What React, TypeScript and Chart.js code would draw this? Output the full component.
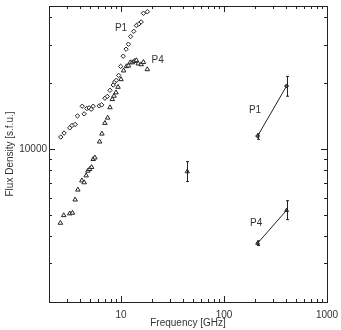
import React, { useEffect, useRef } from 'react';
import { Chart, registerables } from 'chart.js';

Chart.register(...registerables);

// P1 (diamonds), low-frequency spectrum
const p1Freq = [2.60, 2.80, 3.18, 3.35, 3.59, 3.78, 4.20, 4.39, 4.66, 4.91, 5.14, 5.37, 6.15, 6.49, 6.98, 7.35, 7.82, 8.41, 8.69, 9.00, 9.50, 9.93, 10.5, 11.2, 11.8, 12.4, 13.3, 14.1, 14.9, 15.7, 16.5, 18.0];
const p1Flux = [11340, 11820, 12490, 12810, 12950, 14160, 15680, 14470, 15310, 15410, 15200, 15680, 15740, 15900, 17060, 17380, 18540, 19600, 20230, 20600, 21690, 23850, 26550, 28570, 30110, 32650, 34490, 36620, 37250, 38040, 41670, 42380];

// P4 (triangles), low-frequency spectrum
const p4Freq = [2.58, 2.78, 3.18, 3.38, 3.59, 3.81, 4.17, 4.39, 4.59, 4.77, 4.95, 5.18, 5.37, 5.58, 6.20, 6.53, 6.98, 7.42, 7.82, 8.23, 8.55, 8.94, 9.35, 10.0, 10.6, 11.3, 11.8, 12.3, 12.9, 13.5, 14.1, 14.7, 15.7, 16.5, 18.0];
const p4Flux = [4593, 4977, 5070, 5103, 5866, 6512, 7173, 7030, 7560, 7944, 8084, 8258, 8978, 9130, 10794, 11735, 13130, 13880, 15480, 16870, 17470, 18110, 19190, 20800, 22800, 23850, 24010, 24850, 24850, 25200, 25400, 24540, 24330, 24930, 23100];

// P4 at 44 GHz with error bar
const p4MidFreq = [44];
const p4MidFlux = [7886];
const p4MidLow = [7100];
const p4MidHigh = [8756];

// Sub-mm points (212 / 405 GHz) with error bars
const subFreq = [212, 405];
const p1SubFlux = [11460, 19400];
const p1SubLow = [11070, 17420];
const p1SubHigh = [11735, 21460];
const p4SubFlux = [3713, 5245];
const p4SubLow = [3623, 4755];
const p4SubHigh = [3806, 5805];

// Axis ticks
const xMajorTicks = [10, 100, 1000];
const xMinorTicks = [2, 3, 4, 5, 6, 7, 8, 9, 20, 30, 40, 50, 60, 70, 80, 90, 200, 300, 400, 500, 600, 700, 800, 900];
const yMajorTicks = [10000];
const yMinorTicks = [2000, 3000, 4000, 5000, 6000, 7000, 8000, 9000, 20000, 30000, 40000];

// Text labels (data coordinates)
const labelText = ['P1', 'P4', 'P1', 'P4'];
const labelX = [10, 22.7, 200, 205];
const labelY = [35500, 25400, 15040, 4560];

const FONT = "'Liberation Sans', Arial, sans-serif";
const INK = '#222';

const pts = (xs: number[], ys: number[]) => xs.map((x, i) => ({ x, y: ys[i] }));

const errorSets = [
  { ds: 2, low: p4MidLow, high: p4MidHigh },
  { ds: 3, low: p1SubLow, high: p1SubHigh },
  { ds: 4, low: p4SubLow, high: p4SubHigh },
];

const framePlugin = {
  id: 'frameTicks',
  afterDatasetsDraw(chart: any) {
    const { ctx, chartArea: a, scales } = chart;
    const xs = scales.x;
    const ys = scales.y;
    ctx.save();
    ctx.strokeStyle = INK;
    ctx.lineWidth = 1;
    // error bars
    errorSets.forEach((e) => {
      const data = chart.data.datasets[e.ds].data as any[];
      data.forEach((d, i) => {
        const px = Math.round(xs.getPixelForValue(d.x)) + 0.5;
        const y1 = ys.getPixelForValue(e.low[i]);
        const y2 = ys.getPixelForValue(e.high[i]);
        ctx.beginPath();
        ctx.moveTo(px, y1);
        ctx.lineTo(px, y2);
        ctx.moveTo(px - 1.5, y1);
        ctx.lineTo(px + 1.5, y1);
        ctx.moveTo(px - 1.5, y2);
        ctx.lineTo(px + 1.5, y2);
        ctx.stroke();
      });
    });
    // frame
    ctx.strokeRect(Math.round(a.left) + 0.5, Math.round(a.top) + 0.5, Math.round(a.right - a.left), Math.round(a.bottom - a.top));
    ctx.beginPath();
    const xt = (v: number, len: number) => {
      const px = Math.round(xs.getPixelForValue(v)) + 0.5;
      ctx.moveTo(px, a.bottom);
      ctx.lineTo(px, a.bottom - len);
      ctx.moveTo(px, a.top);
      ctx.lineTo(px, a.top + len);
    };
    const yt = (v: number, len: number) => {
      const py = Math.round(ys.getPixelForValue(v)) + 0.5;
      ctx.moveTo(a.left, py);
      ctx.lineTo(a.left + len, py);
      ctx.moveTo(a.right, py);
      ctx.lineTo(a.right - len, py);
    };
    xMinorTicks.forEach((v) => xt(v, 3));
    xMajorTicks.forEach((v) => xt(v, 6));
    yMinorTicks.forEach((v) => yt(v, 3));
    yMajorTicks.forEach((v) => yt(v, 6));
    ctx.stroke();
    // text labels
    ctx.fillStyle = '#333';
    ctx.font = `10px ${FONT}`;
    ctx.textAlign = 'center';
    ctx.textBaseline = 'middle';
    labelText.forEach((t, i) => {
      ctx.fillText(t, xs.getPixelForValue(labelX[i]), ys.getPixelForValue(labelY[i]));
    });
    ctx.restore();
  },
};

export default function App() {
  const ref = useRef<HTMLCanvasElement | null>(null);
  useEffect(() => {
    document.body.style.margin = '0';
    if (!ref.current) return;
    const chart = new Chart(ref.current, {
      type: 'scatter',
      data: {
        datasets: [
          {
            label: 'P1',
            data: pts(p1Freq, p1Flux),
            pointStyle: 'rectRot',
            pointRadius: 2.2,
            borderColor: INK,
            backgroundColor: '#fff',
            borderWidth: 1,
            showLine: false,
          },
          {
            label: 'P4',
            data: pts(p4Freq, p4Flux),
            pointStyle: 'triangle',
            pointRadius: 2.6,
            borderColor: INK,
            backgroundColor: '#fff',
            borderWidth: 1,
            showLine: false,
          },
          {
            label: 'P4 44',
            data: pts(p4MidFreq, p4MidFlux),
            pointStyle: 'triangle',
            pointRadius: 2.4,
            borderColor: INK,
            backgroundColor: '#fff',
            borderWidth: 1,
            showLine: false,
          },
          {
            label: 'P1 sub',
            data: pts(subFreq, p1SubFlux),
            pointStyle: 'rectRot',
            pointRadius: 2,
            borderColor: INK,
            backgroundColor: '#555',
            borderWidth: 1,
            showLine: true,
          },
          {
            label: 'P4 sub',
            data: pts(subFreq, p4SubFlux),
            pointStyle: 'triangle',
            pointRadius: 2.2,
            borderColor: INK,
            backgroundColor: '#555',
            borderWidth: 1,
            showLine: true,
          },
        ],
      },
      options: {
        animation: false,
        responsive: false,
        devicePixelRatio: 1,
        layout: { padding: { top: 6, right: 14, left: 0, bottom: 0 } },
        plugins: { legend: { display: false }, tooltip: { enabled: false } },
        scales: {
          x: {
            type: 'logarithmic',
            min: 2,
            max: 1000,
            grid: { display: false, drawTicks: false },
            border: { display: false },
            afterBuildTicks: (s: any) => {
              s.ticks = xMajorTicks.map((v) => ({ value: v }));
            },
            afterFit: (s: any) => {
              s.height = 28;
              s.paddingLeft = 0;
              s.paddingRight = 0;
              s.paddingTop = 0;
              s.paddingBottom = 0;
            },
            ticks: {
              autoSkip: false,
              maxRotation: 0,
              padding: 7,
              color: '#333',
              font: { family: FONT, size: 10 },
              callback: (v: any) => String(v),
            },
            title: {
              display: true,
              text: 'Frequency [GHz]',
              color: '#333',
              font: { family: FONT, size: 10 },
              padding: { top: 0, bottom: 1 },
            },
          },
          y: {
            type: 'logarithmic',
            min: 2000,
            max: 45000,
            grid: { display: false, drawTicks: false },
            border: { display: false },
            afterBuildTicks: (s: any) => {
              s.ticks = yMajorTicks.map((v) => ({ value: v }));
            },
            afterFit: (s: any) => {
              s.width = 49;
              s.paddingLeft = 0;
              s.paddingRight = 0;
              s.paddingTop = 0;
              s.paddingBottom = 0;
            },
            ticks: {
              autoSkip: false,
              padding: 2,
              color: '#333',
              font: { family: FONT, size: 10 },
              callback: (v: any) => String(v),
            },
            title: {
              display: true,
              text: 'Flux Density [s.f.u.]',
              color: '#333',
              font: { family: FONT, size: 10 },
              padding: { top: 4, bottom: 0 },
            },
          },
        },
      },
      plugins: [framePlugin],
    } as any);
    return () => chart.destroy();
  }, []);
  return (
    <div style={{ width: 341, height: 330 }}>
      <canvas ref={ref} width={341} height={330} style={{ display: 'block' }} />
    </div>
  );
}
